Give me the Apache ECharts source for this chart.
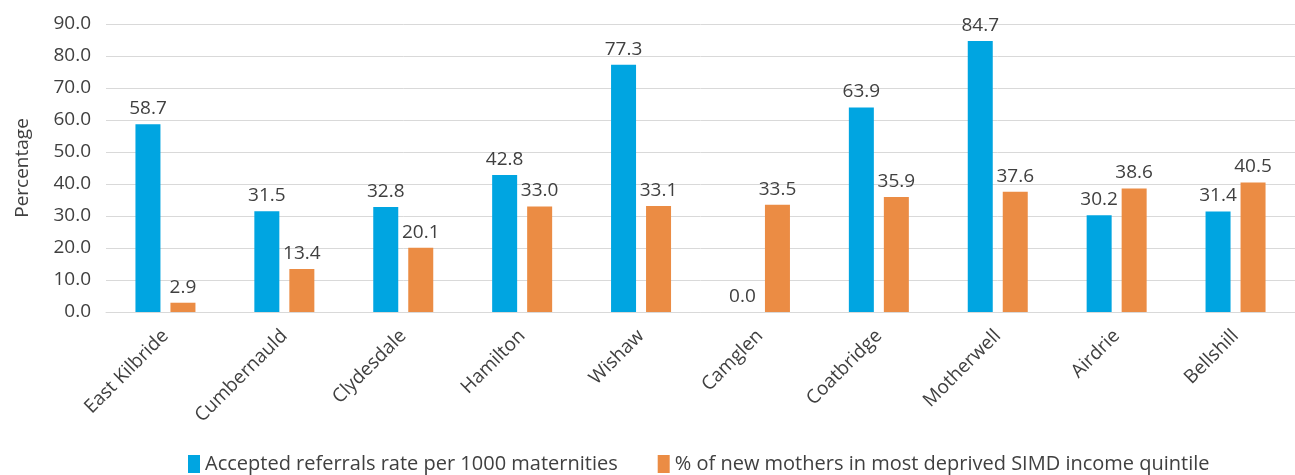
<!DOCTYPE html>
<html>
<head>
<meta charset="utf-8">
<script src="https://cdn.jsdelivr.net/npm/echarts@6/dist/echarts.min.js"></script>
<style>
html,body{margin:0;padding:0;background:#fff;}
#chart{width:1295px;height:475px;}
</style>
</head>
<body>
<div id="chart"></div>
<script>
const categories = ['East Kilbride','Cumbernauld','Clydesdale','Hamilton','Wishaw','Camglen','Coatbridge','Motherwell','Airdrie','Bellshill'];
const referralsRate = [58.7, 31.5, 32.8, 42.8, 77.3, 0.0, 63.9, 84.7, 30.2, 31.4];
const deprivedPct = [2.9, 13.4, 20.1, 33.0, 33.1, 33.5, 35.9, 37.6, 38.6, 40.5];
const seriesNames = ['Accepted referrals rate per 1000 maternities', '% of new mothers in most deprived SIMD income quintile'];

const FONT = 'Open Sans';
const FS = 19;
const TXT = '#404040';
const chart = echarts.init(document.getElementById('chart'));
const labelOpt = {
  show: true, position: 'top', distance: 6,
  color: TXT, fontFamily: FONT, fontSize: FS,
  formatter: p => Number(p.value).toFixed(1)
};
chart.setOption({
  animation: false,
  textStyle: {fontFamily: FONT},
  grid: {left: 106, right: 0, top: 24, bottom: 163, containLabel: false},
  legend: {
    top: 449, left: 183, itemWidth: 12, itemHeight: 18, itemGap: 40,
    icon: 'rect',
    textStyle: {color: TXT, fontFamily: FONT, fontSize: 20},
    data: seriesNames
  },
  xAxis: {
    type: 'category', data: categories,
    axisLine: {lineStyle: {color: '#d9d9d9', width: 1}},
    axisTick: {show: false},
    axisLabel: {rotate: 45, color: TXT, fontFamily: FONT, fontSize: FS, margin: 21, interval: 0}
  },
  yAxis: {
    type: 'value', min: 0, max: 90, interval: 10,
    name: 'Percentage', nameLocation: 'middle', nameGap: 74, nameRotate: 90,
    nameTextStyle: {color: TXT, fontFamily: FONT, fontSize: FS},
    axisLine: {show: false}, axisTick: {show: false},
    axisLabel: {color: TXT, fontFamily: FONT, fontSize: FS, margin: 15, formatter: v => v.toFixed(1)},
    splitLine: {lineStyle: {color: '#d9d9d9', width: 1}}
  },
  series: [
    {name: seriesNames[0], type: 'bar', data: referralsRate, barWidth: 25, barGap: '40%',
     itemStyle: {color: '#00A5E1'}, label: labelOpt},
    {name: seriesNames[1], type: 'bar', data: deprivedPct, barWidth: 25,
     itemStyle: {color: '#EB8C44'}, label: labelOpt}
  ]
});
</script>
</body>
</html>
